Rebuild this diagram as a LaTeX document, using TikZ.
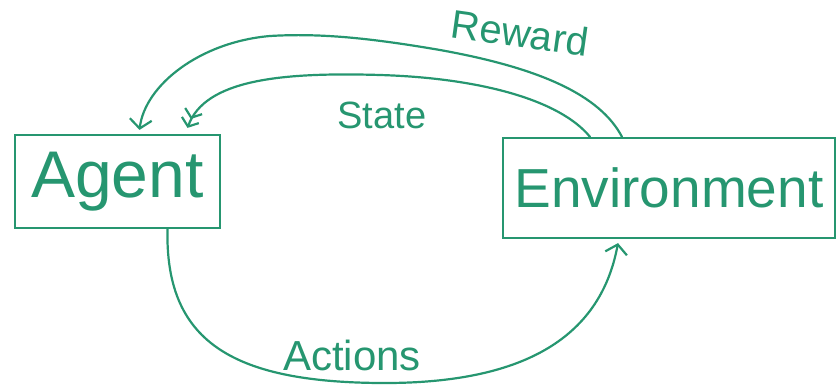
\documentclass[tikz,border=0pt]{standalone}
\usepackage{fontspec}
\setmainfont{Liberation Sans}
\usetikzlibrary{arrows.meta}
\definecolor{pen}{RGB}{38,150,112}
\tikzset{
  box/.style={draw=pen, line width=2.2pt, rectangle, inner sep=0pt, text=pen},
  link/.style={draw=pen, line width=2.2pt, line cap=round},
  tip/.style={-{Straight Barb[length=9pt,width=22pt,line width=2.2pt]}},
  dtip/.style={-{Straight Barb[length=7pt,width=18pt,line width=2.2pt]Straight Barb[length=7pt,width=18pt,line width=2.2pt]}},
  lbl/.style={text=pen, inner sep=0pt}
}
\begin{document}
\begin{tikzpicture}[x=1pt,y=-1pt]
\useasboundingbox (0,0) rectangle (840,387);
\node[box, minimum width=205pt, minimum height=93pt, font=\fontsize{66}{70}\selectfont] (agent) at (117.5,181.5) {Agent};
\node[box, minimum width=332pt, minimum height=100pt, font=\fontsize{55}{60}\selectfont] (env) at (669,188) {Environment};
% Reward
\coordinate (rs) at ([xshift=-47pt]env.north);
\coordinate (re) at ([xshift=22pt,yshift=4pt]agent.north);
\draw[link,tip] (rs) .. controls (600,95) and (540,68) .. (440,50) .. controls (370,38) and (320,33) .. (270,36) .. controls (200,42) and (145,85) .. (re);
% State
\coordinate (ss) at ([xshift=-79pt]env.north);
\coordinate (se) at ([xshift=70pt,yshift=6pt]agent.north);
\draw[link,dtip] (ss) .. controls (560,100) and (480,78) .. (380,75) .. controls (280,72) and (205,80) .. (se);
% Actions
\coordinate (as) at ([xshift=50pt]agent.south);
\coordinate (ae) at ([xshift=-51pt,yshift=-4pt]env.south);
\draw[link,tip] (as) .. controls (165,340) and (230,382) .. (380,383) .. controls (520,384) and (600,340) .. (ae);
% labels
\node[lbl, rotate=-8, font=\fontsize{40}{44}\selectfont] (lr) at (520,33) {Reward};
\node[lbl, font=\fontsize{38}{42}\selectfont] (ls) at (382,115) {State};
\node[lbl, font=\fontsize{42}{46}\selectfont] (la) at (352,355) {Actions};
\end{tikzpicture}
\end{document}
